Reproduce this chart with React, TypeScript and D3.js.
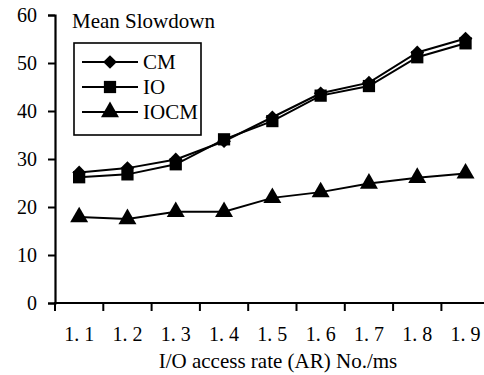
import React, { useEffect, useRef } from 'react';
import * as d3 from 'd3';

// chart data
const categories = ['1.1', '1.2', '1.3', '1.4', '1.5', '1.6', '1.7', '1.8', '1.9'];
const cmValues = [27.2, 28.1, 29.9, 33.7, 38.7, 43.7, 45.9, 52.2, 55.1];
const ioValues = [26.2, 26.8, 28.9, 34.1, 37.9, 43.2, 45.2, 51.2, 54.1];
const iocmValues = [17.9, 17.5, 19.0, 19.0, 21.9, 23.1, 24.9, 26.1, 27.0];
const yTicks = [0, 10, 20, 30, 40, 50, 60];

const series = [
  { name: 'CM', values: cmValues, symbol: 'diamond' },
  { name: 'IO', values: ioValues, symbol: 'square' },
  { name: 'IOCM', values: iocmValues, symbol: 'triangle' },
];

const FONT = "'Liberation Serif', 'Times New Roman', 'DejaVu Serif', serif";

const symbolPath = (kind: string) => {
  if (kind === 'diamond') return d3.symbol().type(d3.symbolDiamond2).size(120)();
  if (kind === 'square') return d3.symbol().type(d3.symbolSquare).size(150)();
  return d3.symbol().type(d3.symbolTriangle).size(140)();
};

const App = () => {
  const ref = useRef<SVGSVGElement | null>(null);

  useEffect(() => {
    drawChart();
  }, []);

  const drawChart = () => {
    const svg = d3.select(ref.current);
    svg.selectAll('*').remove();

    const left = 55;
    const top = 15;
    const bottom = 303;

    const xScale = d3.scaleBand()
      .domain(categories)
      .range([left, left + 9 * 48.3])
      .padding(0);

    const yScale = d3.scaleLinear()
      .domain([0, 60])
      .range([bottom, top]);

    // y axis
    const yAxis = svg.append('g')
      .attr('transform', `translate(${left},0)`)
      .call(d3.axisLeft(yScale).tickValues(yTicks).tickSize(7).tickPadding(11));
    yAxis.attr('font-family', FONT).attr('font-size', 20);
    yAxis.select('.domain').attr('stroke-width', 2.2);
    yAxis.selectAll('.tick line').attr('stroke-width', 2);
    yAxis.selectAll('.tick text').attr('fill', '#000');

    // x axis, ticks between the categories
    const bounds = d3.range(categories.length + 1).map(i => xScale.range()[0] + i * xScale.step());
    const xg = svg.append('g');
    xg.append('line')
      .attr('x1', left - 1).attr('x2', xScale.range()[1])
      .attr('y1', bottom).attr('y2', bottom)
      .attr('stroke', '#000').attr('stroke-width', 2.2);
    xg.selectAll('.xtick')
      .data(bounds)
      .enter().append('line')
      .attr('x1', d => d).attr('x2', d => d)
      .attr('y1', bottom).attr('y2', bottom + 8)
      .attr('stroke', '#000').attr('stroke-width', 2);
    xg.selectAll('.xlabel')
      .data(categories)
      .enter().append('text')
      .attr('x', d => (xScale(d) as number) + xScale.bandwidth() / 2)
      .attr('y', 341)
      .attr('text-anchor', 'middle')
      .attr('font-family', FONT)
      .attr('font-size', 20)
      .attr('xml:space', 'preserve')
      .text(d => d.replace('.', '.\u00a0'));

    // x axis title
    svg.append('text')
      .attr('x', 278)
      .attr('y', 368)
      .attr('text-anchor', 'middle')
      .attr('font-family', FONT)
      .attr('font-size', 21)
      .text('I/O access rate (AR) No./ms');

    // chart title
    svg.append('text')
      .attr('x', 72)
      .attr('y', 28)
      .attr('font-family', FONT)
      .attr('font-size', 21)
      .text('Mean Slowdown');

    const line = d3.line<number>()
      .x((d, i) => (xScale(categories[i]) as number) + xScale.bandwidth() / 2)
      .y(d => yScale(d));

    series.forEach(s => {
      svg.append('path')
        .datum(s.values)
        .attr('d', line)
        .attr('fill', 'none')
        .attr('stroke', '#000')
        .attr('stroke-width', 2);

      svg.selectAll(`.pt-${s.name}`)
        .data(s.values)
        .enter().append('path')
        .attr('d', symbolPath(s.symbol))
        .attr('transform', (d, i) => `translate(${(xScale(categories[i]) as number) + xScale.bandwidth() / 2},${yScale(d)})`)
        .attr('fill', '#000');
    });

    // legend
    const legend = svg.append('g');
    legend.append('rect')
      .attr('x', 74).attr('y', 43)
      .attr('width', 127).attr('height', 92)
      .attr('fill', '#fff')
      .attr('stroke', '#000')
      .attr('stroke-width', 1.6);

    series.forEach((s, i) => {
      const cy = 62 + i * 25;
      legend.append('line')
        .attr('x1', 82).attr('x2', 138)
        .attr('y1', cy).attr('y2', cy)
        .attr('stroke', '#000').attr('stroke-width', 2);
      legend.append('path')
        .attr('d', symbolPath(s.symbol))
        .attr('transform', `translate(110,${cy})`)
        .attr('fill', '#000');
      legend.append('text')
        .attr('x', 143)
        .attr('y', cy + 7)
        .attr('font-family', FONT)
        .attr('font-size', 21)
        .text(s.name);
    });
  };

  return (
    <svg
      ref={ref}
      width={484}
      height={375}
      style={{ position: 'absolute', left: 0, top: 0, background: '#fff' }}
    />
  );
};

export default App;
